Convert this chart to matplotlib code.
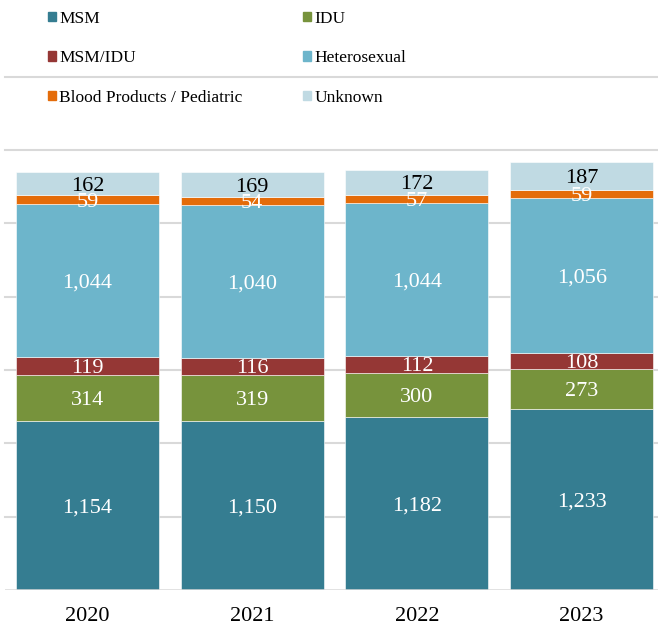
import matplotlib
matplotlib.use("Agg")
import matplotlib.pyplot as plt
from matplotlib.patches import Patch
import numpy as np

years = ["2020", "2021", "2022", "2023"]
series_names = ["MSM", "IDU", "MSM/IDU", "Heterosexual", "Blood Products / Pediatric", "Unknown"]
msm = [1154, 1150, 1182, 1233]
idu = [314, 319, 300, 273]
msm_idu = [119, 116, 112, 108]
hetero = [1044, 1040, 1044, 1056]
blood = [59, 54, 57, 59]
unknown = [162, 169, 172, 187]

values = [msm, idu, msm_idu, hetero, blood, unknown]
colors = ["#357D91", "#77933C", "#953735", "#6DB5CB", "#E46C0A", "#C0DAE3"]
label_colors = ["white", "white", "white", "white", "white", "black"]

plt.rcParams['font.family'] = ['Liberation Serif', 'DejaVu Serif']

W, H = 658, 625
fig = plt.figure(figsize=(W / 100, H / 100), dpi=100)
px_per_unit = 440 / 3000.0
y0 = 590
ymax = 4000
top_px = y0 - ymax * px_per_unit
left_px, right_px = 5, 664
ax = fig.add_axes([left_px / W, (H - y0) / H, (right_px - left_px) / W, (y0 - top_px) / H])
ax.set_xlim(-0.5, 3.5)
ax.set_ylim(0, ymax)

x = np.arange(len(years))
bottom = np.zeros(len(years))
handles = []
for name, vals, c, lc in zip(series_names, values, colors, label_colors):
    vals = np.array(vals, dtype=float)
    ax.bar(x, vals, 0.867, bottom=bottom, color=c, edgecolor="white", linewidth=0.4, zorder=3)
    for xi, b, v in zip(x, bottom, vals):
        ax.text(xi, b + v / 2, f"{int(v):,}", ha="center", va="center_baseline", color=lc,
                fontsize=16, zorder=4)
    bottom += vals
    handles.append(Patch(facecolor=c, edgecolor=c, label=name))

for g in range(500, 3501, 500):
    ax.axhline(g, color="#D9D9D9", linewidth=1.5, zorder=1, clip_on=False)
ax.axhline(0, color="#D9D9D9", linewidth=1.8, zorder=5)

for s in ax.spines.values():
    s.set_visible(False)
ax.set_yticks([])
ax.set_xticks(x)
ax.set_xticklabels(years, fontsize=16)
ax.tick_params(axis="x", length=0, pad=12)

order = [0, 2, 4, 1, 3, 5]
leg = fig.legend([handles[i] for i in order], [series_names[i] for i in order],
                 ncol=2, loc="upper left", bbox_to_anchor=(48 / W, 1 - 11 / H),
                 frameon=False, fontsize=12.5, handlelength=0.45, handleheight=0.45,
                 handletextpad=0.2, columnspacing=3.5, labelspacing=1.34,
                 borderaxespad=0, borderpad=0)

fig.savefig("out.png", dpi=100)
